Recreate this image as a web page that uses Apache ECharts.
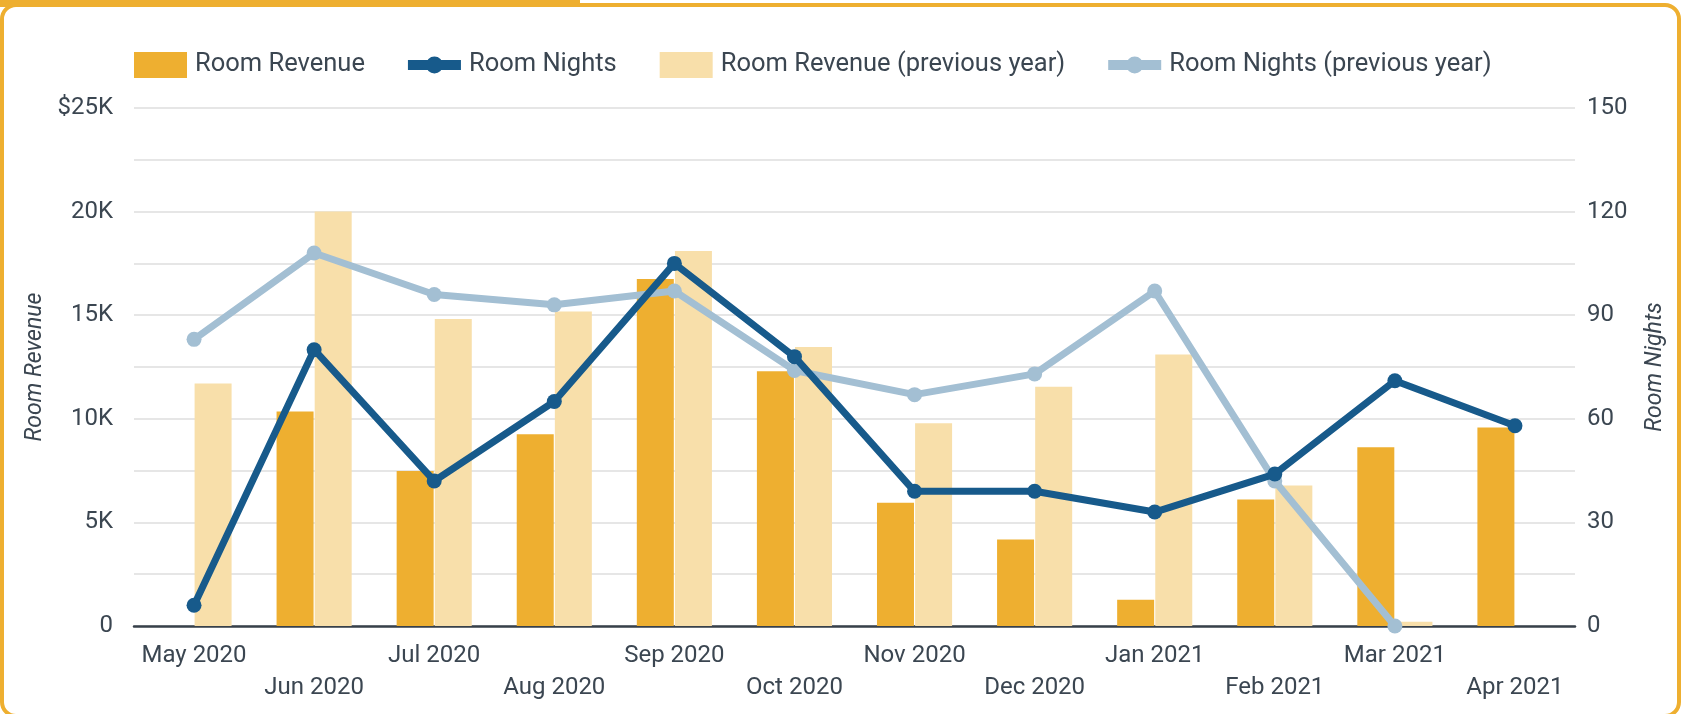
<!DOCTYPE html>
<head>
    <meta charset="utf-8">
    <title>Room Revenue / Room Nights</title>
    <style>
        html, body { margin: 0; padding: 0; background: #fff; }
    </style>
</head>
<body>

<div id="main" style="height:714px;width:1687px"></div>
<script src="https://cdn.jsdelivr.net/npm/echarts@6/dist/echarts.min.js"></script>

<script type="text/javascript">

// months on the x axis
var months = ['May 2020', 'Jun 2020', 'Jul 2020', 'Aug 2020', 'Sep 2020', 'Oct 2020',
              'Nov 2020', 'Dec 2020', 'Jan 2021', 'Feb 2021', 'Mar 2021', 'Apr 2021'];

// revenue in $ (left axis)
var roomRevenue     = [null, 10350, 7480, 9250, 16750, 12300, 5950, 4180, 1270, 6100, 8630, 9580];
var roomRevenuePrev = [11700, 20000, 14820, 15180, 18100, 13470, 9780, 11550, 13100, 6780, 200, null];

// room nights (right axis)
var roomNights      = [6, 80, 42, 65, 105, 78, 39, 39, 33, 44, 71, 58];
var roomNightsPrev  = [83, 108, 96, 93, 97, 74, 67, 73, 97, 42, 0, null];

var YELLOW = '#EEAF30';
var TXT = '#3b4651';
// line + dot legend icon (two bar pieces so the dot stays filled)
var lineIcon = 'path://M0,8.5H20V18.5H0Z M33,8.5H53V18.5H33Z M18,13.5A8.5,8.5 0 1,1 35,13.5A8.5,8.5 0 1,1 18,13.5Z';

var myChart = echarts.init(document.getElementById('main'), null, {renderer: 'canvas'});

var option = {
    animation: false,
    textStyle: { fontFamily: 'Roboto' },
    graphic: [
        // frame around the card
        { type: 'rect', shape: { x: 2, y: 5, width: 1677, height: 711, r: 14 },
          style: { fill: null, stroke: YELLOW, lineWidth: 4 }, silent: true },
        // title tab (cut off at the top)
        { type: 'rect', shape: { x: 0, y: 0, width: 580, height: 7 },
          style: { fill: YELLOW }, silent: true }
    ],
    legend: {
        left: 134,
        top: 52,
        padding: 0,
        itemWidth: 53,
        itemHeight: 26,
        itemGap: 43,
        textStyle: { fontSize: 25.5, color: TXT, padding: [0, 0, 0, 3] },
        data: [
            { name: 'Room Revenue', icon: 'rect' },
            { name: 'Room Nights', icon: lineIcon },
            { name: 'Room Revenue (previous year)', icon: 'rect' },
            { name: 'Room Nights (previous year)', icon: lineIcon }
        ]
    },
    grid: { left: 134, right: 112, top: 108, bottom: 88 },
    xAxis: {
        type: 'category',
        data: months,
        axisTick: { show: false },
        axisLine: { lineStyle: { color: '#37404a', width: 2.5 } },
        axisLabel: {
            interval: 0,
            fontSize: 24,
            color: TXT,
            margin: 14,
            lineHeight: 32,
            formatter: function (v, i) { return i % 2 ? '\n' + v : v; }
        }
    },
    yAxis: [
        {
            type: 'value',
            min: 0, max: 25000, interval: 2500,
            name: 'Room Revenue',
            nameLocation: 'middle',
            nameGap: 77,
            nameTextStyle: { fontSize: 23, fontStyle: 'italic', color: TXT },
            axisLine: { show: false },
            axisTick: { show: false },
            splitLine: { lineStyle: { color: '#e6e6e6', width: 2 } },
            axisLabel: {
                fontSize: 24, color: TXT, margin: 21,
                formatter: function (v) {
                    if (v % 5000) return '';
                    if (v === 0) return '0';
                    return (v === 25000 ? '$' : '') + v / 1000 + 'K';
                }
            }
        },
        {
            type: 'value',
            min: 0, max: 150, interval: 15,
            name: 'Room Nights',
            nameLocation: 'middle',
            nameGap: 69,
            nameRotate: 90,
            nameTextStyle: { fontSize: 23, fontStyle: 'italic', color: TXT },
            axisLine: { show: false },
            axisTick: { show: false },
            splitLine: { show: false },
            axisLabel: {
                fontSize: 24, color: TXT, margin: 12,
                formatter: function (v) { return v % 30 ? '' : String(v); }
            }
        }
    ],
    series: [
        {
            name: 'Room Revenue', type: 'bar', yAxisIndex: 0,
            data: roomRevenue, barWidth: 37, barGap: '3%',
            itemStyle: { color: YELLOW }
        },
        {
            name: 'Room Revenue (previous year)', type: 'bar', yAxisIndex: 0,
            data: roomRevenuePrev, barWidth: 37,
            itemStyle: { color: '#F8DFAA' }
        },
        {
            name: 'Room Nights (previous year)', type: 'line', yAxisIndex: 1,
            data: roomNightsPrev, symbol: 'circle', symbolSize: 15,
            lineStyle: { width: 7, color: '#A3BFD3' },
            itemStyle: { color: '#A3BFD3' }, z: 3
        },
        {
            name: 'Room Nights', type: 'line', yAxisIndex: 1,
            data: roomNights, symbol: 'circle', symbolSize: 15,
            lineStyle: { width: 7, color: '#175A8B' },
            itemStyle: { color: '#175A8B' }, z: 4
        }
    ]
};

myChart.setOption(option);
</script>
</body>
